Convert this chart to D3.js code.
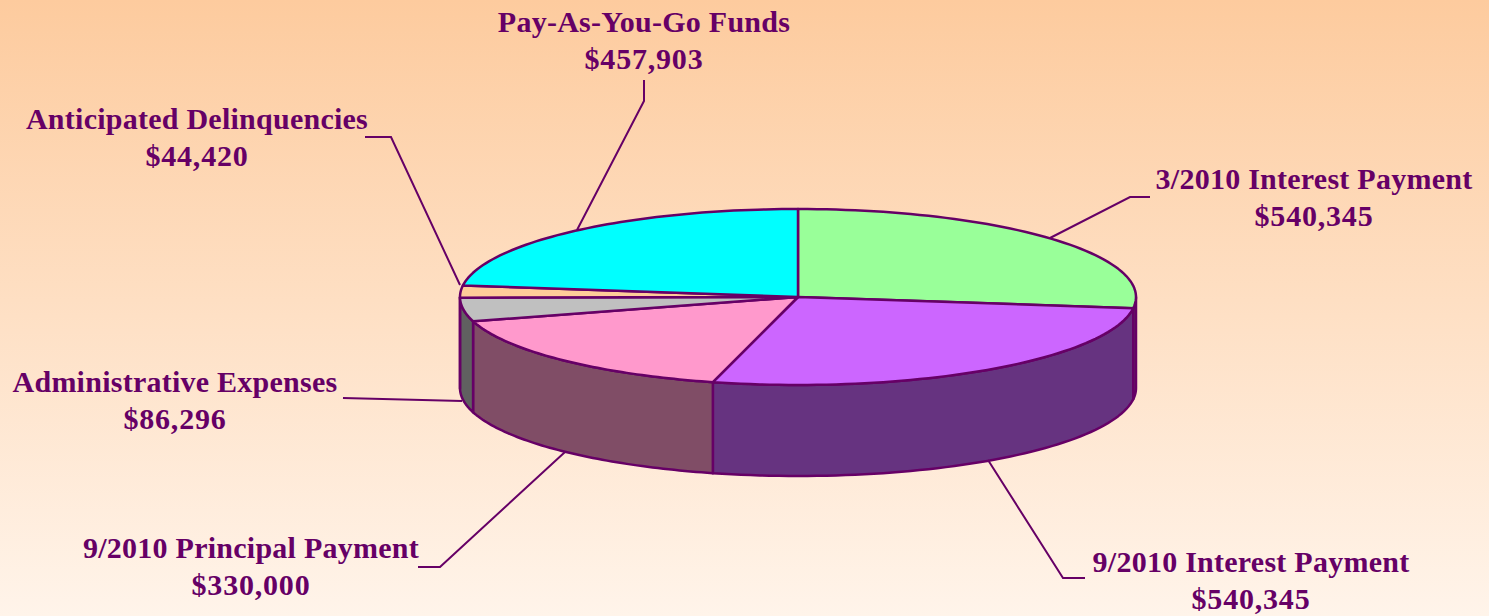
<!DOCTYPE html>
<html>
<head>
<meta charset="utf-8">
<script src="https://cdn.jsdelivr.net/npm/d3@7"></script>
<style>
  html, body { margin: 0; padding: 0; overflow: hidden; }
  svg { display: block; }
  text { font-family: "Liberation Serif", serif; font-weight: bold; font-size: 30px; letter-spacing: 0.25px; fill: #660066; text-anchor: middle; }
  text.amount { letter-spacing: 0.8px; }
</style>
</head>
<body>
<div id="app"></div>
<script>
// data
const categories = ['3/2010 Interest Payment', '9/2010 Interest Payment', '9/2010 Principal Payment',
  'Administrative Expenses', 'Anticipated Delinquencies', 'Pay-As-You-Go Funds'];
const amounts = [540345, 540345, 330000, 86296, 44420, 457903];
const topColors = ['#99ff99', '#cc66ff', '#ff99cc', '#c0c0c0', '#ffcc99', '#00ffff'];
const sideColors = ['#4d804d', '#663380', '#804d66', '#606060', '#806650', '#008080'];

// layout
const width = 1489, height = 616;
const cx = 798, cy = 297, rx = 338, ry = 88, depth = 91;
const ink = '#660066';
const labelCenters = [[1314, 189], [1251, 572], [251, 558], [175, 392], [197, 129], [644, 32]];
const leaders = [
  [[1150, 197], [1130, 197], [1050, 238]],
  [[1085, 578], [1063, 578], [988, 460]],
  [[418, 567], [440, 567], [565, 452]],
  [[343, 398], [462, 401]],
  [[365, 137], [391, 137], [460, 285]],
  [[644, 80], [644, 101], [577, 230]]
];

const svg = d3.select('#app').append('svg').attr('width', width).attr('height', height);

// background
const grad = svg.append('defs').append('linearGradient')
  .attr('id', 'bg').attr('x1', 0).attr('y1', 0).attr('x2', 0).attr('y2', 1);
grad.append('stop').attr('offset', '0%').attr('stop-color', '#fdcb9e');
grad.append('stop').attr('offset', '100%').attr('stop-color', '#fff4ea');
svg.append('rect').attr('width', width).attr('height', height).attr('fill', 'url(#bg)');

// slices, clockwise from 12 o'clock
const arcs = d3.pie().sort(null)(amounts);
const xAt = a => cx + rx * Math.sin(a);
const yAt = a => cy - ry * Math.cos(a);
const rim = (a0, a1) => d3.range(0, 61).map(i => {
  const a = a0 + (a1 - a0) * i / 60;
  return [xAt(a), yAt(a)];
});
const line = d3.line();

// side walls, only the front half of the ellipse shows
const sides = svg.append('g');
arcs.forEach((d, i) => {
  const a0 = Math.max(d.startAngle, Math.PI / 2);
  const a1 = Math.min(d.endAngle, Math.PI * 1.5);
  if (a0 >= a1) return;
  const upper = rim(a0, a1);
  const lower = upper.slice().reverse().map(p => [p[0], p[1] + depth]);
  sides.append('path')
    .attr('d', line(upper.concat(lower)) + 'Z')
    .attr('fill', sideColors[i])
    .attr('stroke', ink).attr('stroke-width', 2.5).attr('stroke-linejoin', 'round');
});

// top face
svg.append('g').selectAll('path')
  .data(arcs)
  .join('path')
  .attr('d', d => line([[cx, cy]].concat(rim(d.startAngle, d.endAngle))) + 'Z')
  .attr('fill', (d, i) => topColors[i])
  .attr('stroke', ink).attr('stroke-width', 2.5).attr('stroke-linejoin', 'round');

// leader lines
svg.append('g').selectAll('path')
  .data(leaders)
  .join('path')
  .attr('d', d => line(d))
  .attr('fill', 'none')
  .attr('stroke', ink).attr('stroke-width', 2);

// labels
const labels = svg.append('g').selectAll('g')
  .data(categories)
  .join('g')
  .attr('transform', (d, i) => `translate(${labelCenters[i][0]},${labelCenters[i][1]})`);
labels.append('text').text(d => d);
labels.append('text').attr('class', 'amount').attr('y', 37).text((d, i) => '$' + d3.format(',')(amounts[i]));
</script>
</body>
</html>
